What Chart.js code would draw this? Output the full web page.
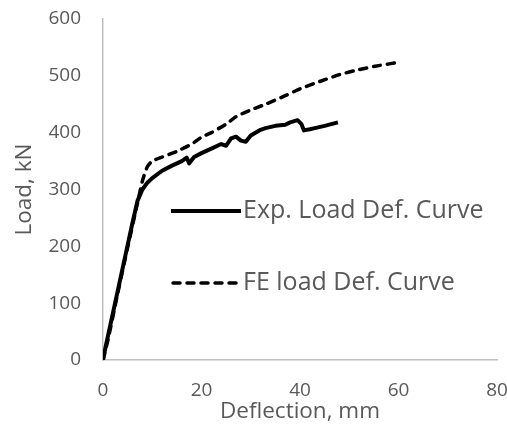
<!DOCTYPE html>
<html>
<head>
<meta charset="utf-8">
<script src="https://cdn.jsdelivr.net/npm/chart.js@4.4.1/dist/chart.umd.min.js"></script>
<style>
  html, body { margin: 0; padding: 0; background: #ffffff; }
  #wrap { width: 507px; height: 427px; position: relative; }
</style>
</head>
<body>
<div id="wrap"><canvas id="c" width="507" height="427"></canvas></div>
<script>
// ---- Data ----
const expDeflection = [0, 0.5, 1, 2, 3, 4, 5, 6, 7, 8, 9, 10, 12, 14, 16, 17, 17.5, 18.5, 20, 22, 24, 25, 26, 27, 28, 29, 30, 32, 33, 35, 37, 38, 39.5, 40.3, 40.8, 42, 43, 45, 47.7];
const expLoad       = [0, 22, 42, 82, 122, 162, 202, 242, 280, 300, 312, 320, 333, 342, 350, 356, 346, 357, 364, 372, 380, 377, 390, 393, 386, 384, 395, 405, 408, 412, 414, 418, 422, 415, 404, 406, 408, 412, 418];

const feDeflection = [0, 1, 3, 5, 7, 8, 9, 10, 12, 15, 18, 20, 22, 25, 27, 30, 33, 37, 40, 44, 48, 52, 56, 60.2];
const feLoad       = [0, 35, 118, 198, 276, 315, 340, 350, 357, 367, 380, 392, 400, 415, 428, 440, 450, 465, 477, 490, 502, 511, 518, 524];

const xTicks = [0, 20, 40, 60, 80];
const yTicks = [0, 100, 200, 300, 400, 500, 600];
const seriesNames = ["Exp. Load Def. Curve", "FE load Def. Curve"];
const xTitle = "Deflection, mm";
const yTitle = "Load, kN";

const toPts = (xs, ys) => xs.map((x, i) => ({ x: x, y: ys[i] }));

const FONT = "'Open Sans', 'DejaVu Sans', sans-serif";
const TXT = "#595959";
const AXIS = "#bfbfbf";

const legendPlugin = {
  id: 'insideLegend',
  afterDraw(chart) {
    const ctx = chart.ctx;
    const items = [
      { name: seriesNames[0], dash: [], y: 211 },
      { name: seriesNames[1], dash: [7, 7], y: 283 }
    ];
    ctx.save();
    items.forEach(it => {
      ctx.beginPath();
      ctx.setLineDash(it.dash);
      ctx.lineWidth = it.dash.length ? 3.5 : 4;
      ctx.lineCap = it.dash.length ? 'round' : 'butt';
      ctx.strokeStyle = '#000';
      ctx.moveTo(it.dash.length ? 173 : 171, it.y);
      ctx.lineTo(241, it.y);
      ctx.stroke();
      ctx.setLineDash([]);
      ctx.fillStyle = TXT;
      ctx.font = "25px " + FONT;
      ctx.textBaseline = 'middle';
      ctx.textAlign = 'left';
      ctx.fillText(it.name, 243, it.y);
    });
    ctx.restore();
  }
};

new Chart(document.getElementById('c'), {
  type: 'scatter',
  data: {
    datasets: [
      {
        label: seriesNames[0],
        data: toPts(expDeflection, expLoad),
        showLine: true,
        borderColor: '#000',
        borderWidth: 4,
        pointRadius: 0,
        tension: 0,
        borderJoinStyle: 'round'
      },
      {
        label: seriesNames[1],
        data: toPts(feDeflection, feLoad),
        showLine: true,
        borderColor: '#000',
        borderWidth: 3.5,
        borderDash: [7, 7],
        borderCapStyle: 'round',
        pointRadius: 0,
        tension: 0.2
      }
    ]
  },
  options: {
    responsive: false,
    animation: false,
    devicePixelRatio: 1,
    layout: { padding: { left: 0, right: 10, top: 19, bottom: 0 } },
    plugins: {
      legend: { display: false },
      tooltip: { enabled: false }
    },
    scales: {
      x: {
        type: 'linear',
        min: 0, max: 80,
        afterBuildTicks: s => { s.ticks = xTicks.map(v => ({ value: v })); },
        afterFit: s => { s.height = 67; s.paddingLeft = 0; s.paddingRight = 0; },
        grid: { display: false, drawTicks: false },
        border: { display: true, color: AXIS, width: 1.5 },
        ticks: { color: TXT, font: { family: FONT, size: 19 }, padding: 19, maxRotation: 0 },
        title: { display: true, text: xTitle, color: TXT, font: { family: FONT, size: 22.5 }, padding: { top: 0, bottom: 2 } }
      },
      y: {
        type: 'linear',
        min: 0, max: 600,
        afterBuildTicks: s => { s.ticks = yTicks.map(v => ({ value: v })); },
        afterFit: s => { s.width = 103; s.paddingTop = 0; s.paddingBottom = 0; },
        grid: { display: false, drawTicks: false },
        border: { display: true, color: AXIS, width: 1.5 },
        ticks: { color: TXT, font: { family: FONT, size: 19 }, padding: 22 },
        title: { display: true, text: yTitle, color: TXT, font: { family: FONT, size: 22.5 }, padding: { top: 11, bottom: 0 } }
      }
    }
  },
  plugins: [legendPlugin]
});
</script>
</body>
</html>
